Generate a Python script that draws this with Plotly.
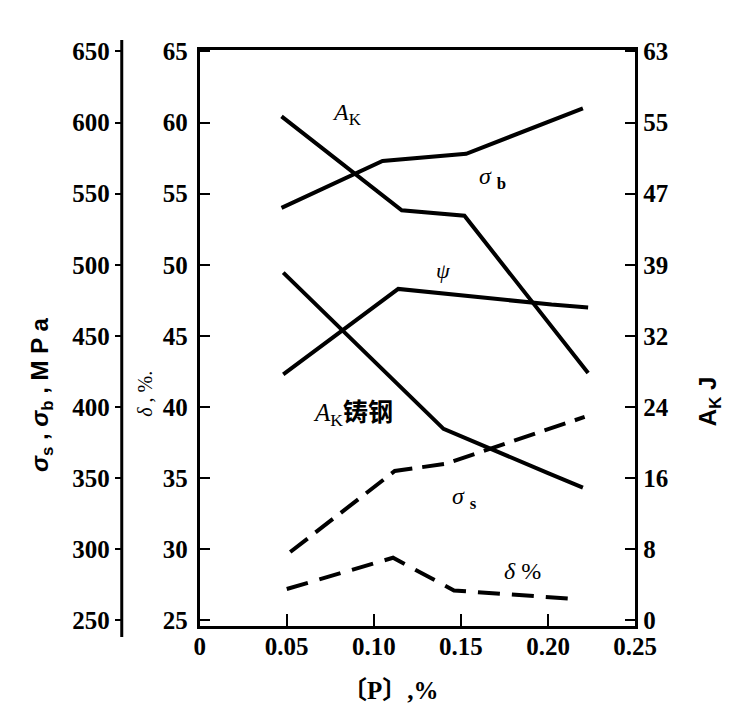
import plotly.graph_objects as go

# ---- data ----
x_ticks = [0, 0.05, 0.10, 0.15, 0.20, 0.25]
x_ticktext = ["0", "0.05", "0.10", "0.15", "0.20", "0.25"]

pct_ticks = [25, 30, 35, 40, 45, 50, 55, 60, 65]
mpa_ticks = [250, 300, 350, 400, 450, 500, 550, 600, 650]
ak_tickvals = [0, 7.875, 15.75, 23.625, 31.5, 39.375, 47.25, 55.125, 63]
ak_ticktext = ["0", "8", "16", "24", "32", "39", "47", "55", "63"]

p_ak = [0.047, 0.116, 0.152, 0.223]
ak = [55.8, 45.4, 44.8, 27.4]

p_sb = [0.047, 0.105, 0.153, 0.220]
sigma_b = [540, 573, 578, 610]

p_psi = [0.048, 0.114, 0.202, 0.223]
psi = [42.3, 48.3, 47.2, 47.0]

p_akc = [0.048, 0.140, 0.200, 0.220]
ak_cast = [38.5, 21.2, 16.3, 14.7]

p_ss = [0.052, 0.112, 0.141, 0.221]
sigma_s = [298, 355, 360, 393]

p_d = [0.050, 0.111, 0.146, 0.215]
delta = [27.2, 29.4, 27.1, 26.5]

W, H = 746, 710
ML, MR, MT, MB = 10, 10, 50, 84
PW = W - ML - MR
PH = H - MT - MB


def px(x):
    return (x - ML) / PW


def py(y):
    return 1 - (y - MT) / PH


x_dom = [px(201), px(654)]
y_range = [24.6, 65.1]
mpa_range = [v * 10 for v in y_range]
ak_range = [(v - 25) / 40 * 63 for v in y_range]

BLK = "black"
fig = go.Figure()
lw = 4
fig.add_trace(go.Scatter(x=p_ak, y=ak, yaxis="y3", mode="lines",
                         line=dict(color=BLK, width=lw)))
fig.add_trace(go.Scatter(x=p_akc, y=ak_cast, yaxis="y3", mode="lines",
                         line=dict(color=BLK, width=lw)))
fig.add_trace(go.Scatter(x=p_sb, y=sigma_b, yaxis="y2", mode="lines",
                         line=dict(color=BLK, width=lw)))
fig.add_trace(go.Scatter(x=p_ss, y=sigma_s, yaxis="y2", mode="lines",
                         line=dict(color=BLK, width=lw, dash="22px,10px")))
fig.add_trace(go.Scatter(x=p_psi, y=psi, yaxis="y", mode="lines",
                         line=dict(color=BLK, width=lw)))
fig.add_trace(go.Scatter(x=p_d, y=delta, yaxis="y", mode="lines",
                         line=dict(color=BLK, width=lw, dash="22px,12px")))

tickfont = dict(family="Liberation Serif", size=25, color=BLK, weight="bold")

fig.update_layout(
    width=W, height=H,
    margin=dict(l=ML, r=MR, t=MT, b=MB),
    paper_bgcolor="white", plot_bgcolor="white",
    showlegend=False,
    xaxis=dict(domain=x_dom, range=[0, 0.25], tickvals=x_ticks, ticktext=x_ticktext,
               ticks="inside", ticklen=12, tickwidth=2, tickcolor=BLK,
               showline=True, linewidth=3, linecolor=BLK, mirror=True,
               showgrid=False, zeroline=False, tickfont=tickfont, ticklabelstandoff=-4),
    yaxis=dict(range=y_range, tickvals=pct_ticks, ticks="inside", ticklen=10,
               tickwidth=2, tickcolor=BLK, showline=True, linewidth=3, linecolor=BLK,
               showgrid=False, zeroline=False, tickfont=tickfont, ticklabelstandoff=4),
    yaxis2=dict(range=mpa_range, tickvals=mpa_ticks, overlaying="y", anchor="free",
                position=px(120), side="left", ticks="outside", ticklen=7, tickwidth=2,
                tickcolor=BLK, showline=False, showgrid=False, zeroline=False,
                tickfont=tickfont),
    yaxis3=dict(range=ak_range, tickvals=ak_tickvals, ticktext=ak_ticktext,
                overlaying="y", anchor="x", side="right", ticks="inside", ticklen=10,
                tickwidth=2, tickcolor=BLK, showline=True, linewidth=3, linecolor=BLK,
                showgrid=False, zeroline=False, tickfont=tickfont),
)

# outer left axis line (extends beyond the plot box)
fig.add_shape(type="line", xref="paper", yref="paper", x0=px(120), x1=px(120),
              y0=py(637), y1=py(40), line=dict(color=BLK, width=3))


def ann(text, x, y, size=22, family="Liberation Serif", angle=0, weight="normal"):
    fig.add_annotation(text=text, xref="paper", yref="paper", x=px(x), y=py(y),
                       xanchor="center", yanchor="middle",
                       showarrow=False, textangle=angle,
                       font=dict(family=family, size=size, color=BLK, weight=weight))


ann("<i>A</i><sub>K</sub>", 354, 114, size=24)
ann("<i>σ</i> <sub><b>b</b></sub>", 506, 178, size=24)
ann("<i>ψ</i>", 454, 270, size=22)
ann("<i>A</i><sub>K</sub><b>铸钢</b>", 360, 414, size=25,
    family="Liberation Serif, Noto Sans CJK SC")
ann("<i>σ</i> <sub><b>s</b></sub>", 476, 498, size=24)
ann("<i>δ</i> %", 537, 571, size=24)

ann("<b><i>σ</i><sub>s</sub> , <i>σ</i><sub>b</sub> , M P a</b>", 36, 395, size=24,
    family="Liberation Sans", angle=-90)
ann("<i>δ</i> , %.", 144, 394, size=20, angle=-90)
ann("<b>A<sub>K</sub> J</b>", 731, 402, size=24, family="Liberation Sans", angle=-90)
ann("<b>〔P〕,%</b>", 400, 690, size=25, family="Liberation Serif, Noto Sans CJK SC")

fig.write_html("out.html")
